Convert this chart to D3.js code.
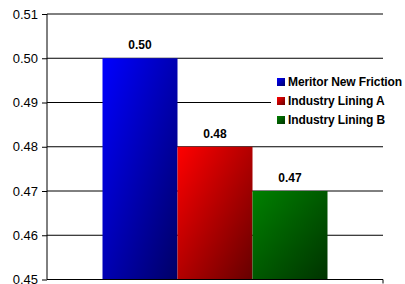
<!DOCTYPE html>
<html><head><meta charset="utf-8">
<script src="https://cdn.jsdelivr.net/npm/d3@7"></script>
<style>html,body{margin:0;padding:0;background:#fff;}svg{display:block;}</style>
</head><body>
<svg id="c" width="405" height="284"></svg>
<script>
const seriesNames = ["Meritor New Friction", "Industry Lining A", "Industry Lining B"];
const seriesValues = [0.50, 0.48, 0.47];
const valueLabels = ["0.50", "0.48", "0.47"];
const yTicks = [0.45, 0.46, 0.47, 0.48, 0.49, 0.50, 0.51];
const colorsLight = ["#0000ff", "#ff0000", "#008000"];
const colorsDark = ["#000066", "#660000", "#003300"];

(function () {
const svg = d3.select("#c");
const pL = 47, pR = 383, pT = 14, pB = 279.5;
const y = d3.scaleLinear().domain([0.45, 0.51]).range([pB, pT]);
const x = d3.scaleBand().domain(seriesNames).range([pL, pR]).paddingOuter(0.74).paddingInner(0);

const defs = svg.append("defs");
seriesNames.forEach((s, i) => {
  const g = defs.append("linearGradient").attr("id", "g" + i)
    .attr("x1", "0").attr("y1", "0").attr("x2", "1").attr("y2", "1");
  g.append("stop").attr("offset", "0").attr("stop-color", colorsLight[i]);
  g.append("stop").attr("offset", "1").attr("stop-color", colorsDark[i]);
});

svg.append("g").selectAll("line").data(yTicks).join("line")
  .attr("x1", pL).attr("x2", pR)
  .attr("y1", d => y(d)).attr("y2", d => y(d))
  .attr("stroke", "#000").attr("stroke-width", 1);

svg.append("g").selectAll("rect").data(seriesValues).join("rect")
  .attr("x", (d, i) => x(seriesNames[i]))
  .attr("width", x.bandwidth())
  .attr("y", d => y(d))
  .attr("height", d => y(0.45) - y(d))
  .attr("fill", (d, i) => `url(#g${i})`);

svg.append("g").selectAll("text").data(seriesValues).join("text")
  .attr("x", (d, i) => x(seriesNames[i]) + x.bandwidth() / 2)
  .attr("y", d => y(d) - 9)
  .attr("text-anchor", "middle")
  .attr("font-family", "Liberation Sans, Arial, sans-serif")
  .attr("font-weight", "bold").attr("font-size", 12)
  .attr("fill", "#000")
  .text((d, i) => valueLabels[i]);

const yAxis = d3.axisLeft(y).tickValues(yTicks).tickFormat(d3.format(".2f")).tickSize(5).tickPadding(4);
const ga = svg.append("g").attr("transform", `translate(${pL},0)`).call(yAxis);
ga.select(".domain").attr("stroke", "#000").attr("d", `M0,${pT}V${pB}`);
ga.selectAll(".tick line").attr("stroke", "#000");
ga.selectAll("text").attr("font-family", "Liberation Sans, Arial, sans-serif").attr("font-size", 13).attr("fill", "#000");

svg.append("line").attr("x1", pL).attr("x2", pR).attr("y1", pB).attr("y2", pB).attr("stroke", "#000");
svg.append("line").attr("x1", pR).attr("x2", pR).attr("y1", pB).attr("y2", pB + 4).attr("stroke", "#000");

const lg = svg.append("g");
lg.append("rect").attr("x", 271).attr("y", 70).attr("width", 134).attr("height", 58).attr("fill", "#fff");
const items = lg.selectAll("g").data(seriesNames).join("g")
  .attr("transform", (d, i) => `translate(277,${82 + i * 19})`);
items.append("rect").attr("x", 0).attr("y", -4).attr("width", 8).attr("height", 8)
  .attr("fill", (d, i) => `url(#g${i})`);
items.append("text").attr("x", 11).attr("y", 0).attr("dy", "0.35em")
  .attr("font-family", "Liberation Sans, Arial, sans-serif")
  .attr("font-weight", "bold").attr("font-size", 12).attr("fill", "#000")
  .attr("letter-spacing", "-0.1")
  .text(d => d);
})();
</script>
</body></html>
